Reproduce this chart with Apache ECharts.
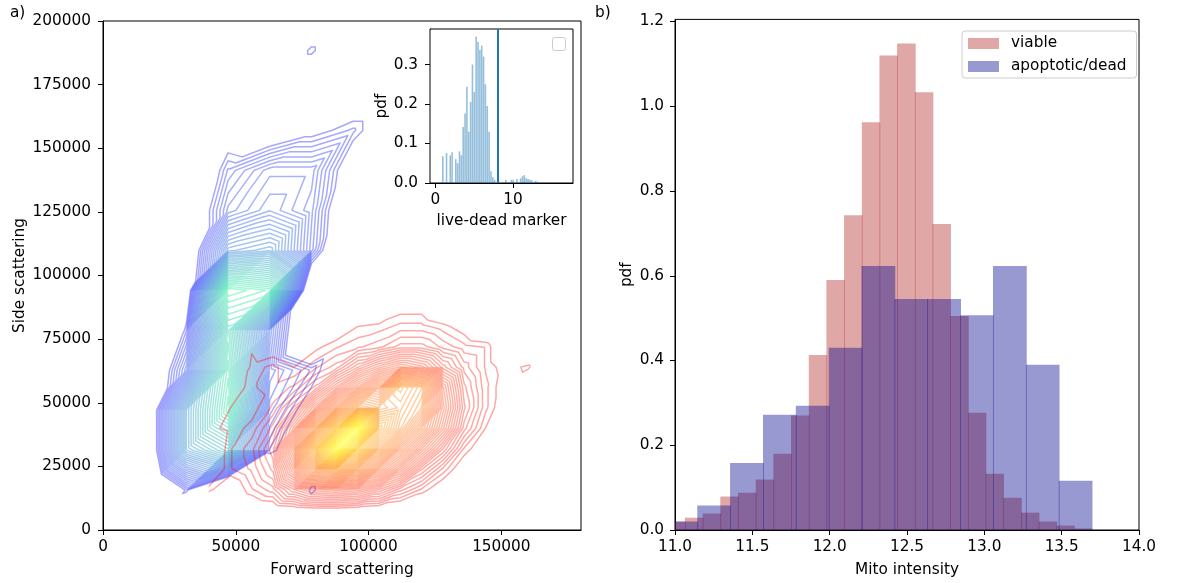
<!DOCTYPE html>
<html><head><meta charset="utf-8">
<script src="https://cdn.jsdelivr.net/npm/echarts@6/dist/echarts.min.js"></script>
<style>html,body{margin:0;padding:0;background:#fff}#c{width:1177px;height:583px}</style>
</head><body><div id="c"></div>
<script>
// ---------- panel a: density grids ----------
const blueX = [0, 15700, 31400, 47100, 62800, 78500, 94200, 109900];
const blueY = [0, 15700, 31400, 47100, 62800, 78500, 94200, 109900, 125600, 141300, 157000, 172700, 188400, 204100];
const blueZ = [
  [0,  0,    -0.1,  -0.1,  -0.1,  0,     0,     0],
  [0, -0.2,   0.11, -0.2,  -0.1,  0.11,  0,     0],
  [0, -0.08,  0.55,  0.7,   0.12, 0,     0,     0],
  [0, -0.08,  0.55,  0.95,  0.2,  0.046, 0,     0],
  [0, -0.12,  0.25,  0.9,   0.25, 0.14, -0.05,  0],
  [0, -0.3,   0.12,  0.85,  0.3, -0.15,  0,     0],
  [0, -0.3,   0,     1.0,   0.95,-0.1,   0,     0],
  [0, -0.2,  -0.05,  0.45,  0.5,  0.2,  -0.17,  0],
  [0,  0,    -0.05,  0.22,  0.3,  0.22, -0.07,  0],
  [0,  0,    -0.1,   0.15,  0.25, 0.25,  0.01,  0],
  [0,  0,     0,     0.036, 0.002,0.072, 0.13,  0],
  [0,  0,     0,     0,     0,    0,     0,     0],
  [0,  0,     0,     0,     0,    0.11,  0,     0],
  [0,  0,     0,     0,     0,    0,     0,     0]
];
const redX = [40000, 48000, 56000, 64000, 72000, 80000, 88000, 96000, 104000, 112000, 120000, 128000, 136000, 144000, 152000, 160000, 168000];
const redY = [0, 8000, 16000, 24000, 32000, 40000, 48000, 56000, 64000, 72000, 80000, 88000, 96000];
const redZ = [
  [0,    0,    0,   -0.05,-0.05,-0.05,-0.05,-0.05,-0.05,-0.03, 0,    0,    0,    0,    0,    0,    0],
  [0,    0.03, 0.05, 0.06, 0.07, 0.08, 0.08, 0.07, 0.06, 0.04, 0.02, 0,    0,    0,    0,    0,    0],
  [0.11, 0.06, 0.12, 0.16, 0.26, 0.32, 0.34, 0.32, 0.26, 0.18, 0.12, 0.06, 0.02, 0,    0,    0,    0],
  [0.05, 0.12, 0.15, 0.22, 0.45, 0.75, 0.85, 0.75, 0.55, 0.4,  0.24, 0.14, 0.06, 0.02, 0,    0,    0],
  [0.04, 0.12, 0.16, 0.25, 0.55, 1.05, 1.6,  1.2,  0.85, 0.6,  0.42, 0.26, 0.12, 0.06, 0.01, 0,    0],
  [0.09, 0.11, 0.13, 0.2,  0.38, 0.75, 1.15, 1.6,  1.0,  0.8,  0.6,  0.4,  0.2,  0.1,  0.03, 0,    0],
  [0.03, 0.1,  0.11, 0.15, 0.24, 0.42, 0.65, 0.85, 0.8,  0.85, 0.75, 0.45, 0.24, 0.13, 0.06, 0,    0],
  [0,    0.06, 0.12, 0.13, 0.15, 0.22, 0.36, 0.5,  0.62, 0.9,  0.8,  0.42, 0.22, 0.13, 0.07, 0.02, 0],
  [0,    0,    0.11, 0.13, 0.1,  0.14, 0.18, 0.28, 0.36, 0.42, 0.38, 0.27, 0.18, 0.12, 0.08, 0.11, 0],
  [0,    0,    0.095,0.07, 0.04, 0.09, 0.12, 0.14, 0.16, 0.2,  0.2,  0.16, 0.13, 0.12, 0.04, 0,    0],
  [0,    0,    0,    0,    0,    0.02, 0.06, 0.1,  0.11, 0.13, 0.13, 0.11, 0.08, 0.03, 0,    0,    0],
  [0,    0,    0,    0,    0,    0,    0,    0,    0.03, 0.08, 0.08, 0.03, 0,    0,    0,    0,    0],
  [0,    0,    0,    0,    0,    0,    0,    0,    0,    0,    0,    0,    0,    0,    0,    0,    0]
];
const levelFirst = 0.1, levelStep = 0.0225;
const blueLevelCount = 43, redLevelCount = 67;

// ---------- inset histogram ----------
const insetBinStart = 0.85, insetBinWidth = 0.238;
const insetHeights = [0.068,0,0.076,0,0.07,0.078,0,0.06,0.05,0.08,0.07,0.142,0.176,0.244,0.13,0.205,0.30,0.23,0.371,0.357,0.337,0.348,0.32,0.25,0.195,0.13,0.03,0.015,0.008,0,0,0,0,0,0.008,0,0,0.008,0.008,0,0.01,0,0.012,0.017,0.02,0.012,0.01,0.008,0.007,0,0.005,0.004];
const cutoffValue = 8;

// ---------- panel b histograms ----------
const viableEdges = [10.950,11.064,11.179,11.293,11.407,11.522,11.636,11.750,11.865,11.979,12.093,12.208,12.322,12.436,12.551,12.665,12.779,12.894,13.008,13.122,13.237,13.351,13.465,13.580,13.694];
const viableHeights = [0.02,0.029,0.039,0.079,0.088,0.119,0.180,0.270,0.413,0.590,0.743,0.962,1.120,1.148,1.033,0.722,0.505,0.277,0.133,0.076,0.041,0.020,0.0105,0.0035];
const deadEdges = [10.931,11.144,11.356,11.569,11.781,11.994,12.206,12.419,12.631,12.844,13.056,13.269,13.481,13.694];
const deadHeights = [0.020,0.058,0.158,0.272,0.293,0.430,0.623,0.545,0.545,0.507,0.623,0.390,0.1165];

const FONT = 'DejaVu Sans';
const FS = 15.3;

// marching triangles on a grid
function contourSegments(xs, ys, zs, levels) {
  const out = levels.map(() => []);
  function cross(a, b, L) {
    const t = (L - a[2]) / (b[2] - a[2]);
    return [a[0] + t * (b[0] - a[0]), a[1] + t * (b[1] - a[1])];
  }
  function tri(p, L, list) {
    const up = p.map(q => q[2] >= L);
    const n = up.filter(Boolean).length;
    if (n === 0 || n === 3) return;
    let lone;
    for (let i = 0; i < 3; i++) { if ((n === 1 && up[i]) || (n === 2 && !up[i])) lone = i; }
    const a = p[lone], b = p[(lone + 1) % 3], c = p[(lone + 2) % 3];
    const p1 = cross(a, b, L), p2 = cross(a, c, L);
    list.push([p1[0], p1[1], p2[0], p2[1]]);
  }
  for (let j = 0; j < ys.length - 1; j++) {
    for (let i = 0; i < xs.length - 1; i++) {
      const A = [xs[i], ys[j], zs[j][i]], B = [xs[i + 1], ys[j], zs[j][i + 1]];
      const C = [xs[i + 1], ys[j + 1], zs[j + 1][i + 1]], D = [xs[i], ys[j + 1], zs[j + 1][i]];
      levels.forEach((L, k) => { tri([A, B, C], L, out[k]); tri([A, C, D], L, out[k]); });
    }
  }
  return out;
}
function makeLevels(n) { const a = []; for (let k = 0; k < n; k++) a.push(levelFirst + k * levelStep); return a; }
const blueLevels = makeLevels(blueLevelCount);
const redLevels = makeLevels(redLevelCount);
const blueSegs = contourSegments(blueX, blueY, blueZ, blueLevels);
const redSegs = contourSegments(redX, redY, redZ, redLevels);

function winter(f) { return 'rgba(0,' + Math.round(255 * f) + ',' + Math.round(255 - 127.5 * f) + ',0.35)'; }
function autumn(f) { return 'rgba(255,' + Math.round(255 * f) + ',0,0.35)'; }

function contourSeries(segs, lv, colorFn, name) {
  return {
    type: 'custom', name: name, xAxisIndex: 0, yAxisIndex: 0, clip: true, silent: true,
    data: lv.map((L, k) => [k]),
    encode: { x: -1, y: -1 },
    renderItem: function (params, api) {
      const k = api.value(0);
      let d = '';
      segs[k].forEach(s => {
        const p = api.coord([s[0], s[1]]), q = api.coord([s[2], s[3]]);
        d += 'M' + p[0].toFixed(2) + ' ' + p[1].toFixed(2) + 'L' + q[0].toFixed(2) + ' ' + q[1].toFixed(2);
      });
      if (!d) return null;
      return { type: 'path', shape: { pathData: d }, style: { stroke: colorFn(k / (lv.length - 1)), fill: null, lineWidth: 1.5, lineCap: 'round', lineJoin: 'round' } };
    }
  };
}

function histSeries(edges, heights, color, name, xi, yi, xmin, shrink, seam) {
  return {
    type: 'custom', name: name, xAxisIndex: xi, yAxisIndex: yi, silent: true,
    itemStyle: { color: color },
    data: heights.map((h, i) => [edges[i], edges[i + 1], h]),
    encode: { x: [0, 1], y: 2 },
    renderItem: function (params, api) {
      const h = api.value(2);
      if (!h) return null;
      const x0 = Math.max(api.value(0), xmin), x1 = api.value(1);
      const p0 = api.coord([x0, h]), p1 = api.coord([x1, 0]);
      let w = p1[0] - p0[0];
      let left = p0[0];
      if (shrink) { left += w * (1 - shrink) / 2; w *= shrink; }
      return { type: 'rect', shape: { x: left, y: p0[1], width: w + (seam || 0), height: p1[1] - p0[1] }, style: { fill: color } };
    }
  };
}

const insetEdges = [];
for (let i = 0; i <= insetHeights.length; i++) insetEdges.push(insetBinStart + i * insetBinWidth);

const axisCommon = {
  axisLine: { show: true, onZero: false, lineStyle: { color: '#000', width: 1 } },
  axisTick: { show: true, inside: false, length: 5, lineStyle: { color: '#000', width: 1 } },
  axisLabel: { color: '#000', fontFamily: FONT, fontSize: FS, margin: 10 },
  splitLine: { show: false },
  nameTextStyle: { color: '#000', fontFamily: FONT, fontSize: FS },
  nameLocation: 'middle'
};
function ax(extra) {
  const o = JSON.parse(JSON.stringify(axisCommon));
  for (const k in extra) {
    if (typeof extra[k] === 'object' && !Array.isArray(extra[k]) && o[k]) Object.assign(o[k], extra[k]);
    else o[k] = extra[k];
  }
  return o;
}
const leftXTicks = [0, 50000, 100000, 150000];
const leftYTicks = [0, 25000, 50000, 75000, 100000, 125000, 150000, 175000, 200000];
const insetXTicks = [0, 10];
const insetYTicks = [0, 0.1, 0.2, 0.3];
const rightXTicks = [11, 11.5, 12, 12.5, 13, 13.5, 14];
const rightYTicks = [0, 0.2, 0.4, 0.6, 0.8, 1.0, 1.2];

const chart = echarts.init(document.getElementById('c'), null, { renderer: 'canvas' });
const xAxes = [
  ax({ type: 'value', gridIndex: 0, min: 0, max: 180000, name: 'Forward scattering', nameGap: 33,
       axisTick: { customValues: leftXTicks }, axisLabel: { customValues: leftXTicks, formatter: v => String(v) } }),
  ax({ type: 'value', gridIndex: 1, min: -0.68, max: 17.7, name: 'live-dead marker', nameGap: 31,
       axisTick: { customValues: insetXTicks }, axisLabel: { customValues: insetXTicks, formatter: v => String(v) } }),
  ax({ type: 'value', gridIndex: 2, min: 11, max: 14, name: 'Mito intensity', nameGap: 33,
       axisTick: { customValues: rightXTicks }, axisLabel: { customValues: rightXTicks, formatter: v => v.toFixed(1) } })
];
const yAxes = [
  ax({ type: 'value', gridIndex: 0, min: 0, max: 200000, name: 'Side scattering', nameGap: 75,
       axisTick: { customValues: leftYTicks }, axisLabel: { customValues: leftYTicks, formatter: v => String(v), margin: 12 } }),
  ax({ type: 'value', gridIndex: 1, min: 0, max: 0.39, name: 'pdf', nameGap: 38,
       axisTick: { customValues: insetYTicks }, axisLabel: { customValues: insetYTicks, formatter: v => v.toFixed(1), margin: 12 } }),
  ax({ type: 'value', gridIndex: 2, min: 0, max: 1.205, name: 'pdf', nameGap: 40,
       axisTick: { customValues: rightYTicks }, axisLabel: { customValues: rightYTicks, formatter: v => v.toFixed(1), margin: 11 } })
];

const option = {
  animation: false,
  backgroundColor: '#fff',
  textStyle: { fontFamily: FONT },
  grid: [
    { left: 103, top: 21, width: 478, height: 511, show: true, borderColor: '#000', borderWidth: 1, backgroundColor: 'transparent' },
    { left: 430, top: 29, width: 143, height: 154, show: true, borderColor: '#000', borderWidth: 1, backgroundColor: '#fff', z: 5 },
    { left: 675, top: 19.4, width: 464, height: 512.6, show: true, borderColor: '#000', borderWidth: 1, backgroundColor: 'transparent' }
  ],
  xAxis: xAxes,
  yAxis: yAxes,
  legend: {
    left: 962, top: 31, orient: 'vertical',
    data: [{ name: 'viable', icon: 'rect' }, { name: 'apoptotic/dead', icon: 'rect' }],
    itemWidth: 31, itemHeight: 11, itemGap: 6,
    padding: [4, 10, 3, 6],
    backgroundColor: 'rgba(255,255,255,0.8)', borderColor: '#ccc', borderWidth: 1, borderRadius: 3,
    textStyle: { color: '#000', fontFamily: FONT, fontSize: FS, lineHeight: 17, padding: [0, 0, 0, 7] },
    selectedMode: false
  },
  graphic: [
    { type: 'text', left: 10, top: 6, style: { text: 'a)', font: FS + 'px "' + FONT + '"', fill: '#000' } },
    { type: 'text', left: 595, top: 6, style: { text: 'b)', font: FS + 'px "' + FONT + '"', fill: '#000' } },
    { type: 'rect', left: 552, top: 37, shape: { width: 13, height: 13, r: 2 }, style: { fill: '#fff', stroke: '#ccc', lineWidth: 1 }, z: 100 }
  ],
  series: [
    contourSeries(blueSegs, blueLevels, winter, 'blue'),
    contourSeries(redSegs, redLevels, autumn, 'red'),
    Object.assign(histSeries(insetEdges, insetHeights, 'rgba(31,119,180,0.48)', 'inset', 1, 1, -0.68, 0.85, 0), {
      z: 6,
      markLine: { silent: true, symbol: ['none', 'none'], label: { show: false },
                  lineStyle: { color: '#1f77b4', width: 2, type: 'solid' }, data: [{ xAxis: cutoffValue }] }
    }),
    histSeries(viableEdges, viableHeights, 'rgba(178,34,34,0.4)', 'viable', 2, 2, 11, 0, 0.8),
    histSeries(deadEdges, deadHeights, 'rgba(0,0,139,0.4)', 'apoptotic/dead', 2, 2, 11, 0, 0.8)
  ]
};
chart.setOption(option);
</script>
</body></html>
